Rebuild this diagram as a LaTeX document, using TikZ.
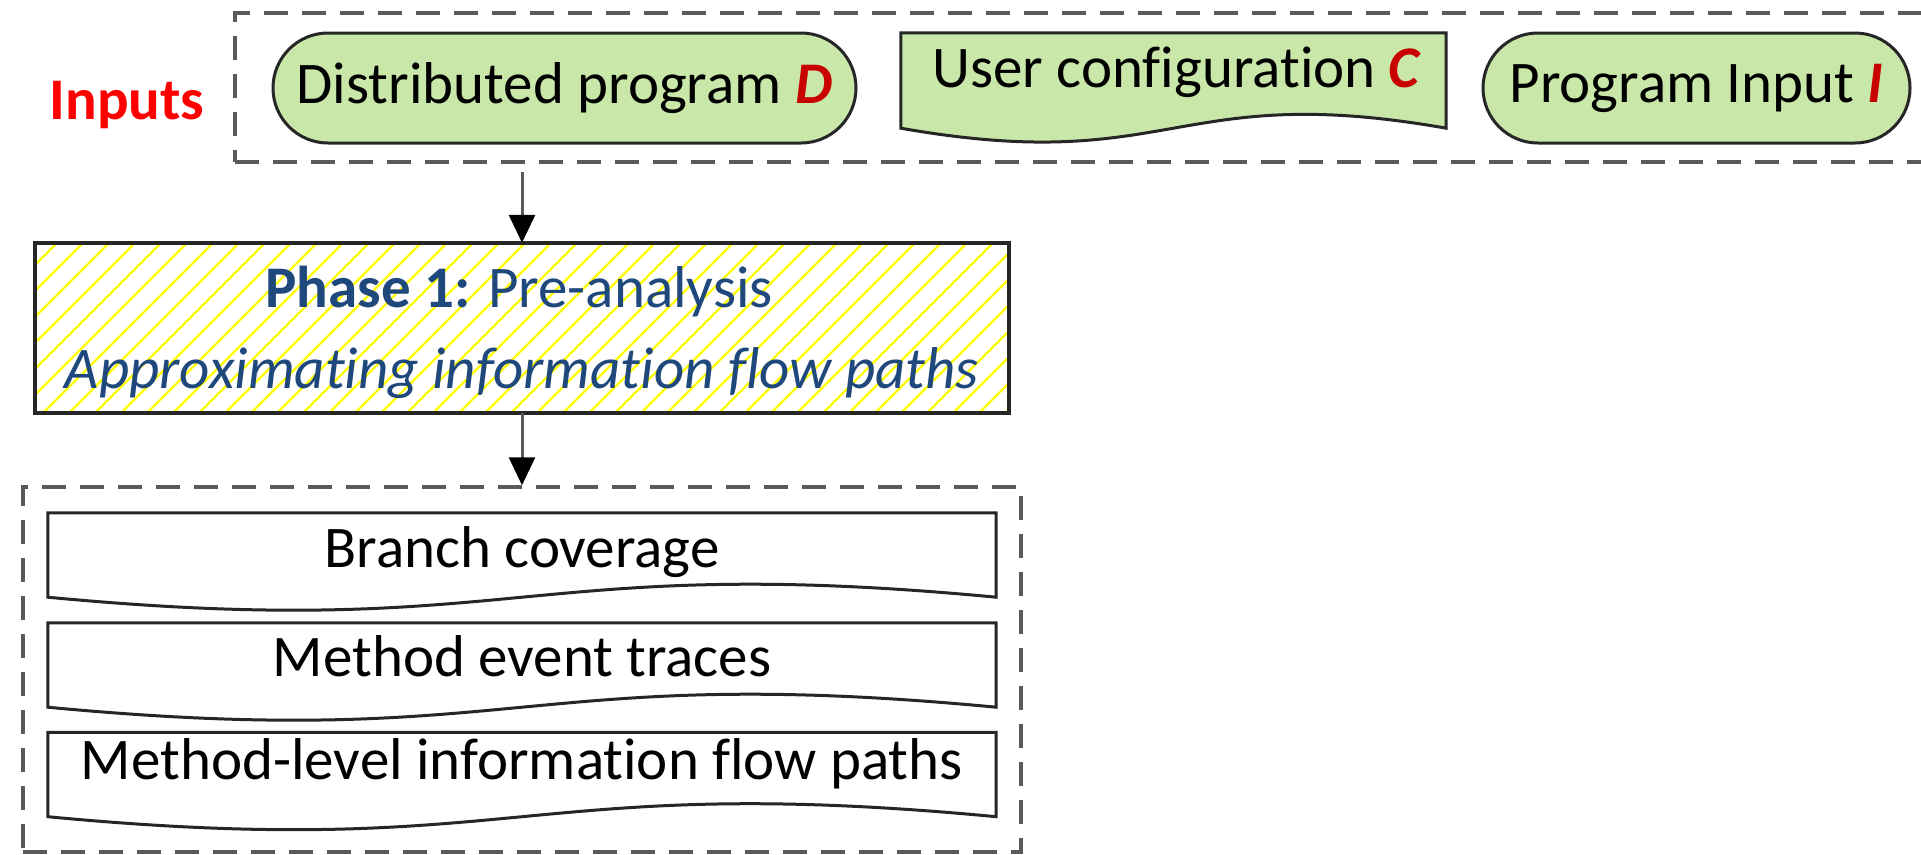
\documentclass[tikz,border=0pt]{standalone}
\usepackage{fontspec}
\setmainfont{Carlito}[Ligatures={TeX,NoCommon}]
\usetikzlibrary{arrows.meta,shapes.misc,calc}

\definecolor{inred}{RGB}{255,0,0}
\definecolor{letterred}{RGB}{200,0,0}
\definecolor{leaf}{RGB}{201,231,168}
\definecolor{edge}{RGB}{38,38,38}
\definecolor{dashgray}{RGB}{90,90,90}
\definecolor{phaseblue}{RGB}{31,72,124}
\definecolor{hatchyellow}{RGB}{255,255,0}

\begin{document}
\begin{tikzpicture}[x=1pt,y=-1pt,
  txt/.style={font=\fontsize{59}{71}\selectfont, inner sep=0pt},
  group/.style={draw=dashgray, line width=3.5pt, dash pattern=on 24pt off 14pt,
                inner sep=0pt, rectangle},
  stadium/.style={rounded rectangle, draw=edge, line width=3pt, fill=leaf,
                  inner sep=0pt, minimum height=110pt, txt},
  docbox/.style={rectangle, inner sep=0pt},
  docline/.style={draw=edge, line width=3pt},
  phasebox/.style={rectangle, fill=white, inner sep=0pt,
                   minimum width=974pt, minimum height=170pt},
  hatch/.style={draw=hatchyellow, line width=2.2pt},
  flow/.style={draw=dashgray, line width=3pt,
               -{Triangle[length=28pt,width=26pt,fill=black,color=black]}}
]
\useasboundingbox (0,0) rectangle (1921,854);

% ---- input group ----
\node[group, minimum width=1700pt, minimum height=149pt] (inbox) at (1085,87.5) {};
\node[txt, anchor=base, text=inred, font=\fontsize{59}{71}\selectfont\bfseries]
  (inputs) at (127,119) {Inputs};

\node[stadium, minimum width=583pt] (progD) at (564.5,88)
  {Distributed program \textcolor{letterred}{\bfseries\itshape D}};
\node[stadium, minimum width=427pt] (progI) at (1696.5,88)
  {Program Input \textcolor{letterred}{\bfseries\itshape I}};

% user configuration: document shape
\node[docbox, minimum width=545pt, minimum height=95pt] (conf) at (1173.5,80.5) {};
\draw[docline, fill=leaf] (conf.north west) -- (conf.south west)
  .. controls ($(conf.south)+(0,48)$) and ($(conf.south)+(0,-48)$) .. (conf.south east)
  -- (conf.north east) -- cycle;
\node[txt, anchor=base] (conftext) at (1176,87)
  {User configuration \textcolor{letterred}{\bfseries\itshape C}};

% ---- phase 1 ----
\node[phasebox] (phase) at (522,328) {};
\begin{scope}
  \clip (phase.south west) rectangle (phase.north east);
  \foreach \i in {0,...,46}
    \draw[hatch] ($(phase.south west)+(\i*26-200,0)$) -- ++(200,-200);
\end{scope}
\draw[draw=edge, line width=4pt] (phase.south west) rectangle (phase.north east);
\node[txt, anchor=base, text=phaseblue] (phasetitle) at (519,307)
  {\bfseries Phase 1: \mdseries Pre-analysis};
\node[txt, anchor=base, text=phaseblue] (phasesub) at (522,388)
  {\itshape Approximating information flow paths};

% ---- outputs group ----
\node[group, minimum width=998pt, minimum height=365pt] (outbox) at (522,669.5) {};

\foreach \n/\y/\t/\b in {branch/555/Branch coverage/567,
                         traces/665/Method event traces/676,
                         paths/774.5/Method-level information flow paths/779}{
  \node[docbox, minimum width=948pt, minimum height=84pt] (\n) at (522,\y) {};
  \draw[docline, fill=white] (\n.north west) -- (\n.south west)
    .. controls ($(\n.south)+(0,45)$) and ($(\n.south)+(0,-45)$) .. (\n.south east)
    -- (\n.north east) -- cycle;
  \node[txt, anchor=base] (\n text) at (522,\b) {\t};
}

% ---- connectors ----
\draw[flow, shorten <=8pt] (inbox.south -| phase.north) -- (phase.north);
\draw[flow] (phase.south) -- (phase.south |- outbox.north);
\end{tikzpicture}
\end{document}
